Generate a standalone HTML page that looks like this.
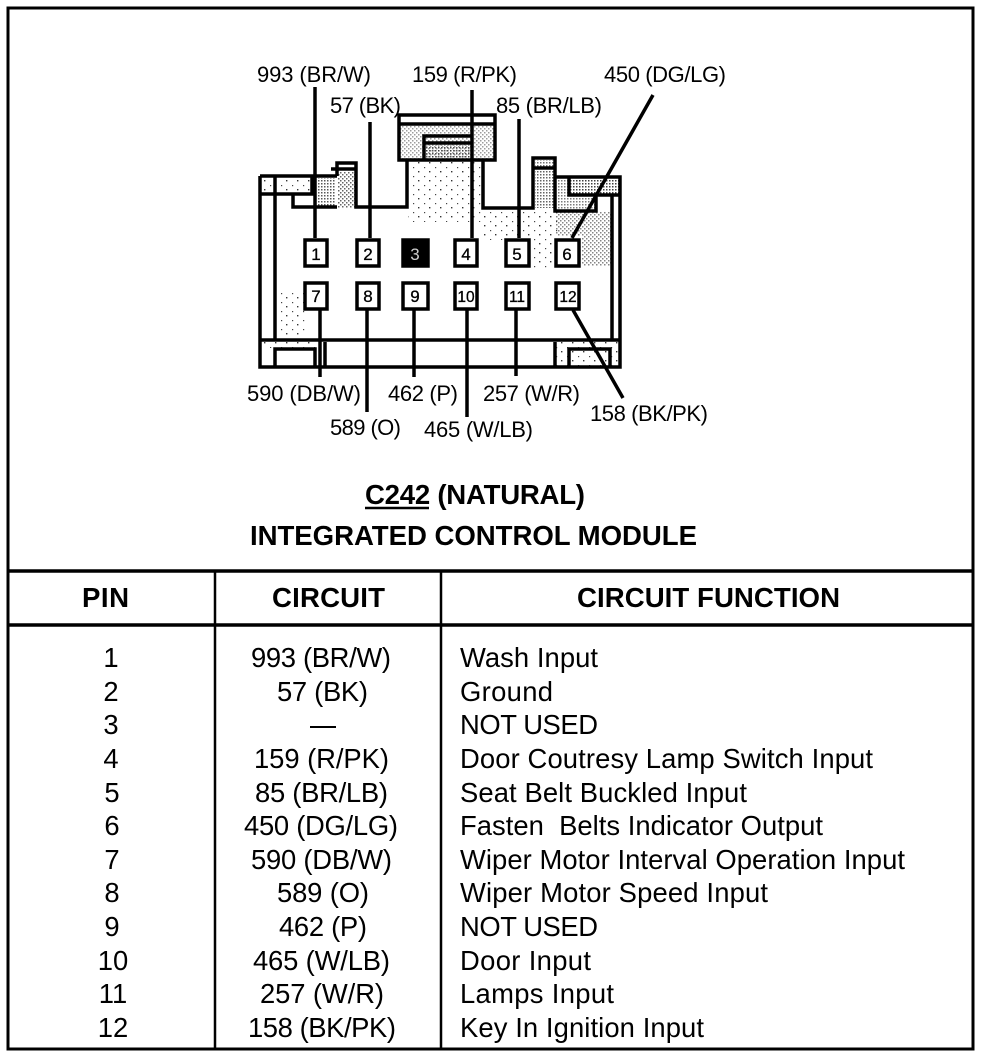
<!DOCTYPE html>
<html><head><meta charset="utf-8"><style>
html,body{margin:0;padding:0;background:#fff}
svg{display:block}
text{font-family:"Liberation Sans",Arial,sans-serif;fill:#000}
.l{font-size:22px}.t{font-size:27.4px}.b{font-size:27.6px;font-weight:bold}
.p{font-size:17px;stroke:#000;stroke-width:.3px}
.q{font-size:15.5px;stroke:#000;stroke-width:.3px}
</style></head><body>
<svg width="992" height="1060" viewBox="0 0 992 1060" xmlns="http://www.w3.org/2000/svg">
<defs>
<pattern id="d" width="3" height="3" patternUnits="userSpaceOnUse"><rect width="1.5" height="1.5" fill="#111"/></pattern>
<pattern id="m" width="4" height="4" patternUnits="userSpaceOnUse"><rect width="1.5" height="1.5" fill="#222"/><rect x="2" y="2" width="1.5" height="1.5" fill="#222"/></pattern>
<pattern id="s" width="11" height="9" patternUnits="userSpaceOnUse"><rect width="1.4" height="1.4" fill="#333"/><rect x="6" y="5" width="1.2" height="1.2" fill="#444"/></pattern>
</defs>
<rect width="992" height="1060" fill="#fff"/>
<!-- shading -->
<g stroke="none">
<rect x="408" y="162" width="73" height="60" fill="url(#s)"/>
<rect x="483" y="210" width="75" height="30" fill="url(#s)"/>
<rect x="530" y="240" width="25" height="30" fill="url(#s)"/>
<rect x="556" y="212" width="55" height="24" fill="url(#m)" opacity=".55"/>
<rect x="582" y="236" width="29" height="30" fill="url(#m)" opacity=".55"/>
<rect x="535" y="170" width="19" height="38" fill="url(#d)" opacity=".65"/>
<rect x="535" y="160" width="19" height="7" fill="url(#d)" opacity=".6"/>
<rect x="556" y="179" width="13" height="31" fill="url(#d)" opacity=".55"/>
<rect x="570" y="179" width="49" height="15" fill="url(#d)" opacity=".8"/>
<rect x="570" y="196" width="26" height="14" fill="url(#d)" opacity=".55"/>
<rect x="318" y="178" width="18" height="28" fill="url(#d)" opacity=".7"/>
<rect x="338" y="172" width="17" height="36" fill="url(#m)" opacity=".7"/>
<rect x="262" y="178" width="50" height="15" fill="url(#s)"/>
<rect x="400" y="125" width="94" height="34" fill="url(#m)" opacity=".45"/>
<rect x="425" y="145" width="46" height="13" fill="url(#d)" opacity=".7"/>
<rect x="276" y="290" width="30" height="48" fill="url(#s)"/>
<rect x="262" y="342" width="60" height="6" fill="url(#s)"/>
<rect x="556" y="342" width="62" height="24" fill="url(#s)"/>
</g>
<!-- connector -->
<g fill="none" stroke="#000" stroke-width="3.5" stroke-linejoin="miter">
<path d="M260 176H337M337 176V163H356V207H407V160"/>
<path d="M260 176V367H620V177H555"/>
<path d="M483 160V208H533V158H555V211H596V196"/>
<path d="M533 168H555"/>
<path d="M569 178V195H620"/>
<path d="M275 176V340M612 195V340M260 340H620"/>
<path d="M260 194H312V176M293 194V207H337M331 169H356"/>
<path d="M399 115H495V160H399ZM399 124H495"/>
<path d="M424 159V136H472M424 143H472"/>
<path d="M275 367V349H315V367M325 342V367M555 342V367M569 367V349H610V367"/>
</g>
<!-- leaders -->
<g stroke="#000" stroke-width="3.5" fill="none">
<path d="M315 87V238M370 122V238M472 90V238M519 119V238M572 238L653 95"/>
<path d="M320 310V377M367 310V412M414 310V377M467 310V417M516 310V376M573 310L623 398"/>
</g>
<!-- pins -->
<g fill="#fff" stroke="#000" stroke-width="3.5">
<rect x="305" y="240" width="22" height="26"/><rect x="357" y="240" width="22" height="26"/>
<rect x="403" y="240" width="25" height="26" fill="#000"/><rect x="455" y="240" width="22" height="26"/>
<rect x="506" y="240" width="23" height="26"/><rect x="556" y="240" width="23" height="26"/>
<rect x="305" y="283" width="22" height="26"/><rect x="357" y="283" width="22" height="26"/>
<rect x="403" y="283" width="25" height="26"/><rect x="455" y="283" width="22" height="26"/>
<rect x="506" y="283" width="23" height="26"/><rect x="556" y="283" width="23" height="26"/>
</g>
<g text-anchor="middle">
<text class="p" x="316" y="260">1</text><text class="p" x="368" y="260">2</text><text class="p" x="415" y="260" style="fill:#ccc;stroke:none">3</text><text class="p" x="466" y="260">4</text><text class="p" x="517" y="260">5</text><text class="p" x="567" y="260">6</text>
<text class="p" x="316" y="302">7</text><text class="p" x="368" y="302">8</text><text class="p" x="415" y="302">9</text><text class="q" x="466" y="302">10</text><text class="q" x="517" y="302">11</text><text class="q" x="568" y="302">12</text>
</g>
<!-- labels -->
<g>
<text class="l" x="257" y="82" textLength="114">993 (BR/W)</text>
<text class="l" x="412" y="82" textLength="105">159 (R/PK)</text>
<text class="l" x="604" y="82" textLength="122">450 (DG/LG)</text>
<text class="l" x="330" y="113" textLength="71">57 (BK)</text>
<text class="l" x="496" y="113" textLength="106">85 (BR/LB)</text>
<text class="l" x="247" y="401" textLength="114">590 (DB/W)</text>
<text class="l" x="388" y="401" textLength="70">462 (P)</text>
<text class="l" x="483" y="401" textLength="97">257 (W/R)</text>
<text class="l" x="590" y="421" textLength="118">158 (BK/PK)</text>
<text class="l" x="330" y="435" textLength="71">589 (O)</text>
<text class="l" x="424" y="437" textLength="109">465 (W/LB)</text>
</g>
<text class="b" x="365" y="504" textLength="220">C242 (NATURAL)</text>
<path d="M365 508H429" stroke="#000" stroke-width="2.5"/>
<text class="b" x="250" y="545" textLength="447">INTEGRATED CONTROL MODULE</text>
<!-- table frame -->
<g fill="none" stroke="#000">
<rect x="8" y="8" width="965" height="1041" stroke-width="3"/>
<path d="M8 571H973M8 625H973" stroke-width="3.5"/>
<path d="M215 571V1049M441 571V1049" stroke-width="2.5"/>
</g>
<text class="b" x="82" y="607" textLength="47">PIN</text>
<text class="b" x="272" y="607" textLength="113">CIRCUIT</text>
<text class="b" x="577" y="607" textLength="263">CIRCUIT FUNCTION</text>
<!-- rows -->
<g text-anchor="middle">
<text class="t" x="111" y="667">1</text><text class="t" x="111" y="701">2</text><text class="t" x="111" y="734">3</text><text class="t" x="111" y="768">4</text><text class="t" x="112" y="802">5</text><text class="t" x="112" y="835">6</text><text class="t" x="112" y="869">7</text><text class="t" x="112" y="902">8</text><text class="t" x="112" y="936">9</text><text class="t" x="113" y="970">10</text><text class="t" x="113" y="1003">11</text><text class="t" x="113" y="1037">12</text>
</g>
<g>
<text class="t" x="251" y="667" textLength="140">993 (BR/W)</text>
<text class="t" x="277" y="701" textLength="91">57 (BK)</text>
<path d="M310 727H336" stroke="#000" stroke-width="2"/>
<text class="t" x="254" y="768" textLength="135">159 (R/PK)</text>
<text class="t" x="255" y="802" textLength="133">85 (BR/LB)</text>
<text class="t" x="244" y="835" textLength="154">450 (DG/LG)</text>
<text class="t" x="251" y="869" textLength="141">590 (DB/W)</text>
<text class="t" x="277" y="902" textLength="92">589 (O)</text>
<text class="t" x="279" y="936" textLength="88">462 (P)</text>
<text class="t" x="253" y="970" textLength="137">465 (W/LB)</text>
<text class="t" x="260" y="1003" textLength="124">257 (W/R)</text>
<text class="t" x="248" y="1037" textLength="148">158 (BK/PK)</text>
</g>
<g>
<text class="t" x="460" y="667" textLength="138">Wash Input</text>
<text class="t" x="460" y="701" textLength="93">Ground</text>
<text class="t" x="460" y="734" textLength="138">NOT USED</text>
<text class="t" x="460" y="768" textLength="413">Door Coutresy Lamp Switch Input</text>
<text class="t" x="460" y="802" textLength="287">Seat Belt Buckled Input</text>
<text class="t" x="460" y="835" textLength="363" xml:space="preserve">Fasten  Belts Indicator Output</text>
<text class="t" x="460" y="869" textLength="445">Wiper Motor Interval Operation Input</text>
<text class="t" x="460" y="902" textLength="308">Wiper Motor Speed Input</text>
<text class="t" x="460" y="936" textLength="138">NOT USED</text>
<text class="t" x="460" y="970" textLength="131">Door Input</text>
<text class="t" x="460" y="1003" textLength="154">Lamps Input</text>
<text class="t" x="460" y="1037" textLength="244">Key In Ignition Input</text>
</g>
</svg>
</body></html>
